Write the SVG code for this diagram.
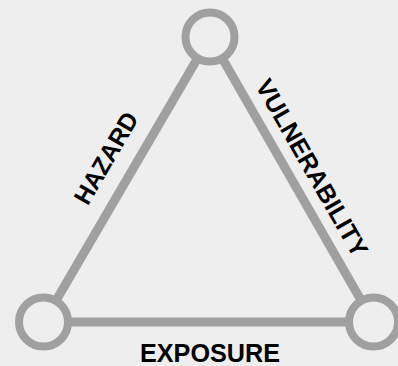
<svg xmlns="http://www.w3.org/2000/svg" width="398" height="366" viewBox="0 0 398 366">
<style>
.edge{stroke:#a0a0a0;stroke-width:9;fill:none}
.node{fill:#eeeeee;stroke:#a0a0a0;stroke-width:8}
.lbl{font-family:"Liberation Sans",Arial,sans-serif;font-weight:bold;font-size:25px;fill:#000000;text-anchor:middle}
</style>
<rect width="398" height="366" fill="#eeeeee"/>
<g id="connectors">
<line class="edge" x1="43.5" y1="322" x2="210" y2="37"/>
<line class="edge" x1="210" y1="37" x2="373.5" y2="322"/>
<line class="edge" x1="43.5" y1="322" x2="373.5" y2="322"/>
</g>
<g id="node-top"><circle class="node" cx="210" cy="37" r="24.5"/></g>
<g id="node-left"><circle class="node" cx="43.5" cy="322" r="24.5"/></g>
<g id="node-right"><circle class="node" cx="373.5" cy="322" r="24.5"/></g>
<g id="labels">
<text class="lbl" transform="translate(113.5,162.5) rotate(-59.6)" textLength="102" lengthAdjust="spacingAndGlyphs">HAZARD</text>
<text class="lbl" transform="translate(304.4,172.2) rotate(60.2)" textLength="200" lengthAdjust="spacingAndGlyphs">VULNERABILITY</text>
<text class="lbl" x="210" y="362" textLength="140" lengthAdjust="spacingAndGlyphs">EXPOSURE</text>
</g>
</svg>
